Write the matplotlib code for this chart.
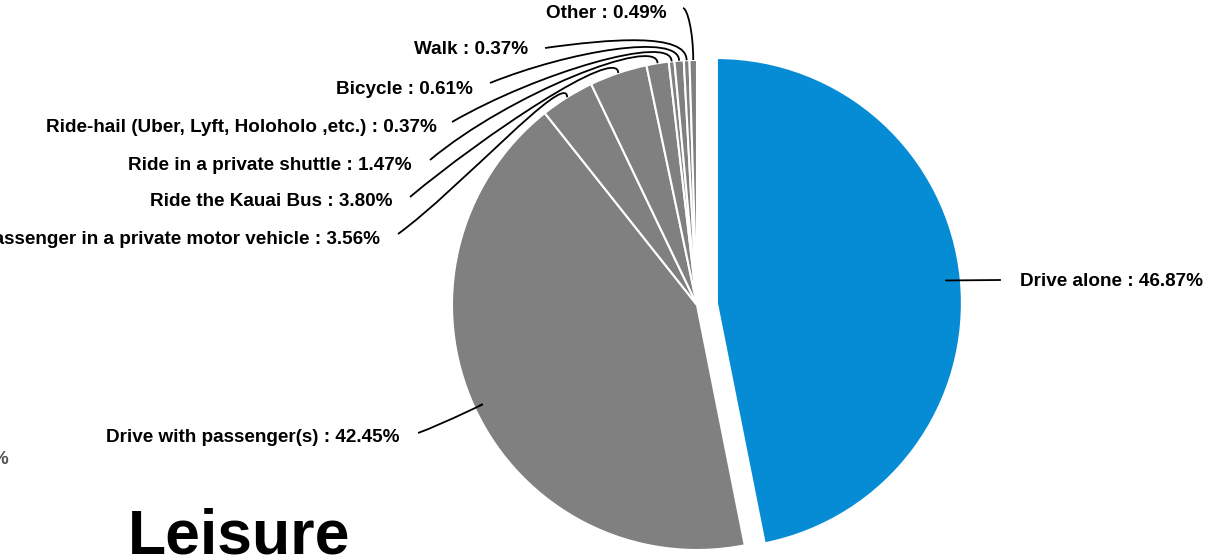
import numpy as np
import matplotlib
matplotlib.use('Agg')
import matplotlib.pyplot as plt
from matplotlib.path import Path
from matplotlib.patches import PathPatch

plt.rcParams['font.family'] = ['Liberation Sans', 'DejaVu Sans']

# données (pourcentages)
categories = ['Drive alone', 'Drive with passenger(s)',
              'Passenger in a private motor vehicle', 'Ride the Kauai Bus',
              'Ride in a private shuttle', 'Ride-hail (Uber, Lyft, Holoholo ,etc.)',
              'Bicycle', 'Walk', 'Other']
valeurs = [46.87, 42.45, 3.56, 3.80, 1.47, 0.37, 0.61, 0.37, 0.49]
titre = 'Leisure'

# mise en page en pixels (y vers le haut)
W, H = 1230, 555
centre = (697, H - 305)
rayon = 245
couleurs = ['#068cd5'] + ['#808080'] * (len(valeurs) - 1)
explode = [20] + [0] * (len(valeurs) - 1)

# étiquettes : x du bord du texte, y (pixels depuis le haut), alignement
pos_etiq = [(1020, 281, 'left'), (400, 437, 'right'), (380, 240, 'right'),
            (392, 202, 'right'), (412, 165, 'right'), (437, 128, 'right'),
            (473, 90, 'right'), (528, 50, 'right'), (667, 14, 'right')]
# départ des traits de rappel (pixels) et angle de départ (degrés)
depart = [(1000, 280), (418, 433), (398, 234), (410, 197), (430, 160),
          (452, 122), (490, 83), (545, 48), (683, 8)]
angle_dep = [0, 20, 36, 40, 40, 30, 22, 8, -10]

fig = plt.figure(figsize=(12.3, 5.55), dpi=100)
ax = fig.add_axes([0, 0, 1, 1])

wedges, _ = ax.pie(valeurs, colors=couleurs, explode=explode, startangle=90,
                   counterclock=False, center=centre, radius=rayon,
                   wedgeprops=dict(edgecolor='white', linewidth=1.5))
ax.set_xlim(0, W)
ax.set_ylim(0, H)
ax.set_aspect('equal')
ax.axis('off')

for i, w in enumerate(wedges):
    ang = np.deg2rad((w.theta1 + w.theta2) / 2)
    cx, cy = w.center
    tx, ty, ha = pos_etiq[i]
    txt = '%s : %.2f%%' % (categories[i], valeurs[i])
    ax.text(tx, H - ty, txt, ha=ha, va='center', fontsize=13.6, fontweight='bold')

    sx, sy = depart[i][0], H - depart[i][1]
    if i == 0:
        r = w.r * 0.94
        ex, ey = cx + r * np.cos(ang), cy + r * np.sin(ang)
        ax.plot([sx, ex], [sy, ey], color='black', lw=1.3)
        continue
    r = w.r * (0.98 if i == 1 else 1.0)
    ex, ey = cx + r * np.cos(ang), cy + r * np.sin(ang)
    a = np.deg2rad(angle_dep[i])
    L = 0.45 * abs(ex - sx)
    p1 = (sx + L * np.cos(a), sy + L * np.sin(a))
    if i == 1:
        p2 = (ex - 20 * np.cos(ang), ey - 20 * np.sin(ang))
    else:
        p2 = (ex, ey + 28)
    chemin = Path([(sx, sy), p1, p2, (ex, ey)],
                  [Path.MOVETO, Path.CURVE4, Path.CURVE4, Path.CURVE4])
    ax.add_patch(PathPatch(chemin, facecolor='none', edgecolor='black', lw=1.3))

# fragment coupé à gauche
ax.text(-9, H - 460, '%', fontsize=13.5, fontweight='bold', color='#555555',
        ha='left', va='center')

ax.text(128, H - 537, titre, fontsize=45, fontweight='bold', ha='left', va='center')

plt.savefig('out.png', dpi=100)
